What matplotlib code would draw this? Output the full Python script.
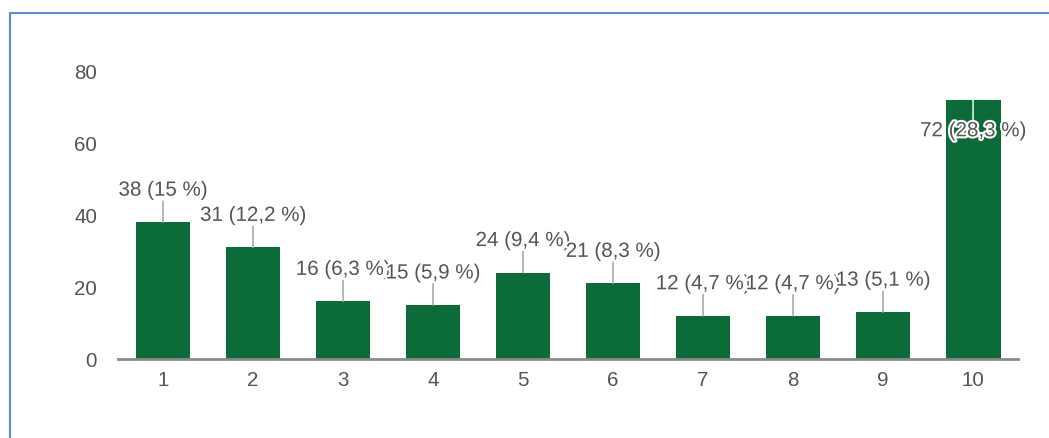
import matplotlib.pyplot as plt
import matplotlib.patheffects as pe
from matplotlib.lines import Line2D

plt.rcParams['font.family'] = ['Liberation Sans', 'DejaVu Sans']

# answer scale 1..10 with number of responses and share
categories = ['1', '2', '3', '4', '5', '6', '7', '8', '9', '10']
counts = [38, 31, 16, 15, 24, 21, 12, 12, 13, 72]
percents = [15, 12.2, 6.3, 5.9, 9.4, 8.3, 4.7, 4.7, 5.1, 28.3]
yticks = [0, 20, 40, 60, 80]

bar_color = '#0b6b39'
text_color = '#555555'
fsize = 14.8

fig = plt.figure(figsize=(10.49, 4.39), dpi=100)
ax = fig.add_axes([0.1125, 0.18, 0.858, 0.656])

x = list(range(1, len(counts) + 1))
ax.bar(x, counts, width=0.61, color=bar_color, zorder=2)

ax.set_xlim(0.5, 10.5)
ax.set_ylim(0, 80)
ax.set_xticks(x)
ax.set_xticklabels(categories)
ax.set_yticks(yticks)
ax.tick_params(length=0, labelsize=fsize, colors=text_color)
ax.tick_params(axis='x', pad=8)
ax.tick_params(axis='y', pad=15)
for s in ['top', 'right', 'left']:
    ax.spines[s].set_visible(False)
ax.spines['bottom'].set_color('#8a8a8a')
ax.spines['bottom'].set_linewidth(2)

halo = [pe.withStroke(linewidth=3, foreground='white')]


def fmt(c, p):
    s = f'{p:g}'.replace('.', ',')
    return f'{c} ({s} %)'


for xi, c, p in zip(x, counts, percents):
    label = fmt(c, p)
    if c > 65:
        # no room above the tallest bar: label goes inside it
        ax.annotate('', xy=(xi, c), xytext=(0, -21), textcoords='offset pixels',
                    arrowprops=dict(arrowstyle='-', color='#d8eede', lw=1.2,
                                    shrinkA=0, shrinkB=0), zorder=3)
        ax.annotate(label, xy=(xi, c), xytext=(0, -31), textcoords='offset pixels',
                    ha='center', va='center', fontsize=fsize, color=text_color,
                    path_effects=halo, zorder=4)
    else:
        ax.annotate('', xy=(xi, c), xytext=(0, 21), textcoords='offset pixels',
                    arrowprops=dict(arrowstyle='-', color='#aaaaaa', lw=1.2,
                                    shrinkA=0, shrinkB=0), zorder=3)
        ax.annotate(label, xy=(xi, c), xytext=(0, 32), textcoords='offset pixels',
                    ha='center', va='center', fontsize=fsize, color=text_color,
                    path_effects=halo, zorder=4)

# frame lines along the top and left edge
border = '#5b8bd6'
fig.add_artist(Line2D([10 / 1049, 1.0], [1 - 14 / 439, 1 - 14 / 439],
                      color=border, lw=1.5, transform=fig.transFigure))
fig.add_artist(Line2D([10 / 1049, 10 / 1049], [0, 1 - 14 / 439],
                      color=border, lw=1.5, transform=fig.transFigure))

fig.savefig('out.png', dpi=100)
